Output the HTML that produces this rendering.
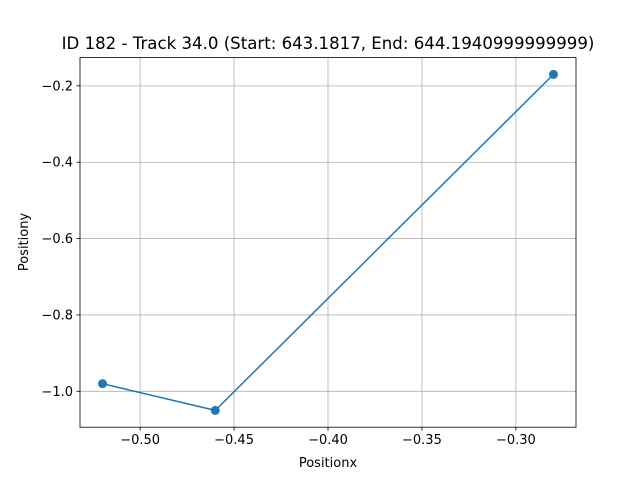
<!DOCTYPE html>
<html><head><meta charset="utf-8"><style>
html,body{margin:0;padding:0;background:#fff;}
svg text{font-family:"DejaVu Sans","Liberation Sans",sans-serif;fill:#000;}
</style></head><body>
<svg id="chart" width="640" height="480" xmlns="http://www.w3.org/2000/svg">
<rect width="640" height="480" fill="#fff"/>
<text x="328" y="49" font-size="16.6" text-anchor="middle">ID 182 - Track 34.0 (Start: 643.1817, End: 644.1940999999999)</text>
<g id="grid"></g><g id="ticks"></g><g id="series"></g>
<rect x="80" y="57.6" width="496" height="369.6" fill="none" stroke="#000" stroke-width="0.8"/>
<text x="328" y="467" font-size="13" text-anchor="middle">Positionx</text>
<text transform="translate(28,242) rotate(-90)" font-size="13" text-anchor="middle">Positiony</text>
</svg>
<script>
const xValues = [-0.52, -0.46, -0.28];
const yValues = [-0.98, -1.05, -0.17];
const xTicks = [-0.50, -0.45, -0.40, -0.35, -0.30];
const yTicks = [-1.0, -0.8, -0.6, -0.4, -0.2];
const xTickLabels = ["\u22120.50","\u22120.45","\u22120.40","\u22120.35","\u22120.30"];
const yTickLabels = ["\u22121.0","\u22120.8","\u22120.6","\u22120.4","\u22120.2"];

const L=80,R=576,T=57.6,B=427.2;
const xmin0=Math.min(...xValues),xmax0=Math.max(...xValues);
const ymin0=Math.min(...yValues),ymax0=Math.max(...yValues);
const xm=(xmax0-xmin0)*0.05, ym=(ymax0-ymin0)*0.05;
const xmin=xmin0-xm,xmax=xmax0+xm,ymin=ymin0-ym,ymax=ymax0+ym;
const sx=v=>L+(v-xmin)/(xmax-xmin)*(R-L);
const sy=v=>B-(v-ymin)/(ymax-ymin)*(B-T);
const NS="http://www.w3.org/2000/svg";
function mk(tag,attrs,parent){const e=document.createElementNS(NS,tag);for(const k in attrs)e.setAttribute(k,attrs[k]);parent.appendChild(e);return e;}
const grid=document.getElementById('grid'),ticks=document.getElementById('ticks'),series=document.getElementById('series');
xTicks.forEach((v,i)=>{
  const x=sx(v);
  const g=mk('line',{x1:x,x2:x,y1:T,y2:B,stroke:'#b0b0b0','stroke-width':0.8},grid);
  
  
  mk('line',{x1:x,x2:x,y1:B,y2:B+3.5,stroke:'#000','stroke-width':0.8},ticks);
  const t=mk('text',{x:x,y:B+17,'font-size':13,'text-anchor':'middle'},ticks);
  t.textContent=xTickLabels[i];
  
  
});
yTicks.forEach((v,i)=>{
  const y=sy(v);
  const g=mk('line',{x1:L,x2:R,y1:y,y2:y,stroke:'#b0b0b0','stroke-width':0.8},grid);
  
  
  mk('line',{x1:L-3.5,x2:L,y1:y,y2:y,stroke:'#000','stroke-width':0.8},ticks);
  const t=mk('text',{x:L-7,y:y+4.5,'font-size':13,'text-anchor':'end'},ticks);
  t.textContent=yTickLabels[i];
  
  
});
const pts=xValues.map((v,i)=>sx(v)+','+sy(yValues[i])).join(' ');
const line=mk('polyline',{points:pts,fill:'none',stroke:'#1f77b4','stroke-width':1.5},series);


xValues.forEach((v,i)=>{
  const c=mk('circle',{cx:sx(v),cy:sy(yValues[i]),r:4.5,fill:'#1f77b4'},series);
  
  
});
</script>
</body></html>
